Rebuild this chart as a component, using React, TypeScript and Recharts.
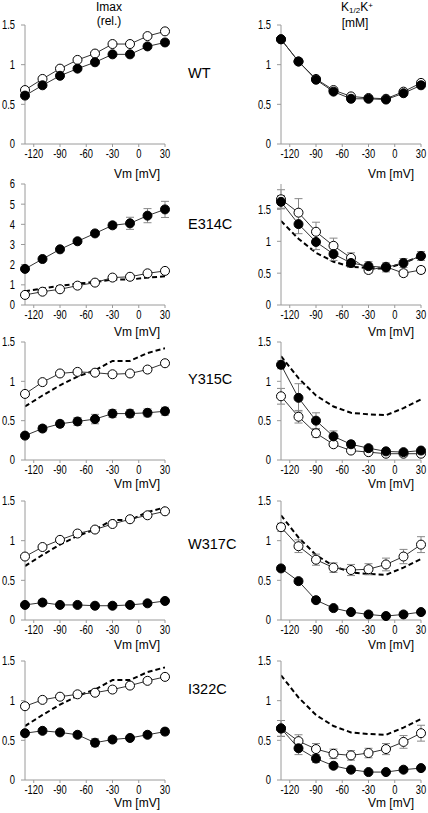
import React from "react";
import { ErrorBar, Line, LineChart, XAxis, YAxis } from "recharts";

// membrane potential (mV) of every point
const VM = [-130, -110, -90, -70, -50, -30, -10, 10, 30];
const X_TICKS = [-120, -90, -60, -30, 0, 30];
const Y_TICKS = [0, 0.5, 1, 1.5];
const Y_TICKS_E314C = [0, 1, 2, 3, 4, 5, 6];

// WT (open circles are also drawn dashed in the mutant panels)
const WT_IMAX_OPEN = [0.68, 0.82, 0.95, 1.06, 1.14, 1.26, 1.26, 1.36, 1.42];
const WT_IMAX_FILLED = [0.61, 0.74, 0.86, 0.95, 1.03, 1.13, 1.13, 1.23, 1.28];
const WT_K_OPEN = [1.32, 1.04, 0.82, 0.68, 0.6, 0.58, 0.57, 0.66, 0.77];
const WT_K_FILLED = [1.32, 1.04, 0.81, 0.66, 0.57, 0.57, 0.56, 0.64, 0.74];

const E314C_IMAX_OPEN = [0.5, 0.66, 0.78, 0.96, 1.11, 1.36, 1.4, 1.57, 1.69];
const E314C_IMAX_OPEN_ERR = [0.05, 0.05, 0.05, 0.05, 0.05, 0.05, 0.08, 0.08, 0.08];
const E314C_IMAX_FILLED = [1.79, 2.28, 2.76, 3.16, 3.55, 3.95, 4.05, 4.43, 4.74];
const E314C_IMAX_FILLED_ERR = [0.05, 0.05, 0.05, 0.05, 0.08, 0.15, 0.3, 0.35, 0.4];
const E314C_K_OPEN = [1.66, 1.45, 1.15, 0.93, 0.74, 0.55, 0.6, 0.5, 0.55];
const E314C_K_OPEN_ERR = [0.15, 0.22, 0.15, 0.12, 0.08, 0.05, 0.05, 0.05, 0.05];
const E314C_K_FILLED = [1.62, 1.27, 0.99, 0.8, 0.66, 0.61, 0.59, 0.66, 0.77];
const E314C_K_FILLED_ERR = [0.1, 0.15, 0.12, 0.1, 0.07, 0.07, 0.07, 0.07, 0.07];

const Y315C_IMAX_OPEN = [0.84, 0.99, 1.1, 1.12, 1.11, 1.09, 1.1, 1.15, 1.23];
const Y315C_IMAX_OPEN_ERR = [0.03, 0.03, 0.03, 0.03, 0.03, 0.03, 0.03, 0.03, 0.03];
const Y315C_IMAX_FILLED = [0.31, 0.4, 0.46, 0.49, 0.52, 0.59, 0.59, 0.6, 0.62];
const Y315C_IMAX_FILLED_ERR = [0.03, 0.04, 0.04, 0.05, 0.06, 0.05, 0.05, 0.05, 0.05];
const Y315C_K_OPEN = [0.81, 0.55, 0.34, 0.2, 0.12, 0.1, 0.08, 0.08, 0.08];
const Y315C_K_OPEN_ERR = [0.1, 0.08, 0.05, 0.03, 0.02, 0.02, 0.02, 0.02, 0.02];
const Y315C_K_FILLED = [1.21, 0.79, 0.5, 0.3, 0.2, 0.15, 0.11, 0.1, 0.12];
const Y315C_K_FILLED_ERR = [0.05, 0.18, 0.1, 0.07, 0.04, 0.03, 0.02, 0.02, 0.02];

const W317C_IMAX_OPEN = [0.8, 0.92, 1.01, 1.09, 1.14, 1.21, 1.27, 1.32, 1.37];
const W317C_IMAX_OPEN_ERR = [0.02, 0.02, 0.02, 0.02, 0.02, 0.02, 0.02, 0.02, 0.02];
const W317C_IMAX_FILLED = [0.19, 0.22, 0.19, 0.19, 0.18, 0.18, 0.19, 0.21, 0.24];
const W317C_IMAX_FILLED_ERR = [0.02, 0.02, 0.02, 0.02, 0.02, 0.02, 0.02, 0.02, 0.02];
const W317C_K_OPEN = [1.17, 0.93, 0.76, 0.66, 0.63, 0.64, 0.7, 0.8, 0.95];
const W317C_K_OPEN_ERR = [0.05, 0.08, 0.07, 0.06, 0.07, 0.07, 0.08, 0.09, 0.1];
const W317C_K_FILLED = [0.65, 0.49, 0.25, 0.15, 0.1, 0.07, 0.05, 0.07, 0.1];
const W317C_K_FILLED_ERR = [0.03, 0.03, 0.03, 0.02, 0.02, 0.02, 0.02, 0.02, 0.02];

const I322C_IMAX_OPEN = [0.93, 1.01, 1.05, 1.08, 1.1, 1.14, 1.19, 1.25, 1.3];
const I322C_IMAX_OPEN_ERR = [0.03, 0.03, 0.03, 0.03, 0.03, 0.03, 0.03, 0.03, 0.03];
const I322C_IMAX_FILLED = [0.59, 0.62, 0.6, 0.57, 0.47, 0.51, 0.53, 0.57, 0.61];
const I322C_IMAX_FILLED_ERR = [0.03, 0.03, 0.03, 0.03, 0.05, 0.03, 0.03, 0.03, 0.04];
const I322C_K_OPEN = [0.65, 0.49, 0.39, 0.33, 0.31, 0.34, 0.39, 0.48, 0.59];
const I322C_K_OPEN_ERR = [0.1, 0.08, 0.07, 0.06, 0.06, 0.06, 0.07, 0.08, 0.1];
const I322C_K_FILLED = [0.65, 0.4, 0.27, 0.18, 0.13, 0.1, 0.1, 0.13, 0.15];
const I322C_K_FILLED_ERR = [0.1, 0.08, 0.05, 0.03, 0.02, 0.02, 0.02, 0.02, 0.02];

const ROW_NAMES = ["WT", "E314C", "Y315C", "W317C", "I322C"];

const FONT = "'Liberation Sans', Arial, sans-serif";
const AXIS = "#9a9a9a";
const PLOT_W = 140;
const YW = 30;
const MT = 6;
const MR = 10;
const XH = 22;

// plot area positions, one per row: [top, height, vm label y, name y]
const ROWS = [
  [25, 119, 174, 74],
  [184, 121, 332, 225],
  [342, 118, 484, 380],
  [501, 119, 645, 545],
  [661, 119, 803, 690],
];

function condTick(anchor: "middle" | "end", dy: string) {
  return (p: any) => (
    <g transform={`translate(${p.x},${p.y})`}>
      <text
        transform="scale(0.75,1)"
        textAnchor={anchor}
        dy={dy}
        fontSize={12.5}
        fontFamily={FONT}
        fill="#000"
      >
        {String(p.payload.value)}
      </text>
    </g>
  );
}

interface PanelProps {
  left: number;
  top: number;
  height: number;
  domain: [number, number];
  yTicks: number[];
  open: number[];
  filled: number[];
  openErr?: number[];
  filledErr?: number[];
  reference?: number[];
}

function Panel({ left, top, height, domain, yTicks, open, filled, openErr, filledErr, reference }: PanelProps) {
  const rows = VM.map((v, i) => ({
    v,
    open: open[i],
    filled: filled[i],
    openErr: openErr ? openErr[i] : 0,
    filledErr: filledErr ? filledErr[i] : 0,
    ref: reference ? reference[i] : undefined,
  }));

  return (
    <div style={{ position: "absolute", left: left - YW, top: top - MT }}>
      <LineChart
        width={YW + PLOT_W + MR}
        height={MT + height + XH}
        data={rows}
        margin={{ top: MT, right: MR, left: 0, bottom: 0 }}
      >
        <XAxis
          type="number"
          dataKey="v"
          domain={[-130, 30]}
          ticks={X_TICKS}
          interval={0}
          height={XH}
          stroke={AXIS}
          tickSize={3}
          tickMargin={2}
          tick={condTick("middle", "0.71em")}
          allowDataOverflow
        />
        <YAxis
          type="number"
          domain={domain}
          ticks={yTicks}
          interval={0}
          width={YW}
          stroke={AXIS}
          tickSize={4}
          tickMargin={6}
          tick={condTick("end", "0.355em")}
          allowDataOverflow
        />
        {reference && (
          <Line
            dataKey="ref"
            stroke="#000"
            strokeWidth={2}
            strokeDasharray="5 3"
            dot={false}
            isAnimationActive={false}
          />
        )}
        <Line
          dataKey="open"
          stroke="#333"
          strokeWidth={1}
          dot={{ r: 4.5, fill: "#fff", stroke: "#000", strokeWidth: 1, clipDot: false }}
          isAnimationActive={false}
        >
          <ErrorBar dataKey="openErr" direction="y" width={4} stroke="#888" strokeWidth={1} />
        </Line>
        <Line
          dataKey="filled"
          stroke="#333"
          strokeWidth={1}
          dot={{ r: 4.5, fill: "#000", stroke: "#000", strokeWidth: 1, clipDot: false }}
          isAnimationActive={false}
        >
          <ErrorBar dataKey="filledErr" direction="y" width={4} stroke="#888" strokeWidth={1} />
        </Line>
      </LineChart>
    </div>
  );
}

const LEFT_X = 25;
const RIGHT_X = 281;

export default function App() {
  const text = (s: React.ReactNode, x: number, y: number, align: "center" | "left" | "right", size: number) => {
    const style: React.CSSProperties = {
      position: "absolute",
      top: y - size * 0.6,
      fontSize: size,
      lineHeight: `${size * 1.2}px`,
      fontFamily: FONT,
      color: "#000",
      whiteSpace: "nowrap",
    };
    if (align === "left") style.left = x;
    if (align === "right") style.right = 428 - x;
    if (align === "center") {
      style.left = x - 50;
      style.width = 100;
      style.textAlign = "center";
    }
    return <div style={style}>{s}</div>;
  };

  const small: React.CSSProperties = { fontSize: 8, lineHeight: 0, position: "relative" };

  return (
    <div
      style={{
        position: "absolute",
        left: 0,
        top: 0,
        width: 428,
        height: 813,
        background: "#fff",
        overflow: "hidden",
      }}
    >
      {text("Imax", 109, 7, "center", 12)}
      {text("(rel.)", 109, 21, "center", 12)}
      {text(
        <span>
          K<span style={{ ...small, top: 2 }}>1/2</span>K<span style={{ ...small, top: -3 }}>+</span>
        </span>,
        357,
        7,
        "center",
        12
      )}
      {text("[mM]", 355, 23, "center", 12)}

      <Panel left={LEFT_X} top={ROWS[0][0]} height={ROWS[0][1]} domain={[0, 1.5]} yTicks={Y_TICKS}
        open={WT_IMAX_OPEN} filled={WT_IMAX_FILLED} />
      <Panel left={RIGHT_X} top={ROWS[0][0]} height={ROWS[0][1]} domain={[0, 1.5]} yTicks={Y_TICKS}
        open={WT_K_OPEN} filled={WT_K_FILLED} />

      <Panel left={LEFT_X} top={ROWS[1][0]} height={ROWS[1][1]} domain={[0, 6]} yTicks={Y_TICKS_E314C}
        open={E314C_IMAX_OPEN} filled={E314C_IMAX_FILLED} openErr={E314C_IMAX_OPEN_ERR}
        filledErr={E314C_IMAX_FILLED_ERR} reference={WT_IMAX_OPEN} />
      <Panel left={RIGHT_X} top={ROWS[1][0]} height={ROWS[1][1]} domain={[0, 1.9]} yTicks={Y_TICKS}
        open={E314C_K_OPEN} filled={E314C_K_FILLED} openErr={E314C_K_OPEN_ERR}
        filledErr={E314C_K_FILLED_ERR} reference={WT_K_OPEN} />

      <Panel left={LEFT_X} top={ROWS[2][0]} height={ROWS[2][1]} domain={[0, 1.5]} yTicks={Y_TICKS}
        open={Y315C_IMAX_OPEN} filled={Y315C_IMAX_FILLED} openErr={Y315C_IMAX_OPEN_ERR}
        filledErr={Y315C_IMAX_FILLED_ERR} reference={WT_IMAX_OPEN} />
      <Panel left={RIGHT_X} top={ROWS[2][0]} height={ROWS[2][1]} domain={[0, 1.5]} yTicks={Y_TICKS}
        open={Y315C_K_OPEN} filled={Y315C_K_FILLED} openErr={Y315C_K_OPEN_ERR}
        filledErr={Y315C_K_FILLED_ERR} reference={WT_K_OPEN} />

      <Panel left={LEFT_X} top={ROWS[3][0]} height={ROWS[3][1]} domain={[0, 1.5]} yTicks={Y_TICKS}
        open={W317C_IMAX_OPEN} filled={W317C_IMAX_FILLED} openErr={W317C_IMAX_OPEN_ERR}
        filledErr={W317C_IMAX_FILLED_ERR} reference={WT_IMAX_OPEN} />
      <Panel left={RIGHT_X} top={ROWS[3][0]} height={ROWS[3][1]} domain={[0, 1.5]} yTicks={Y_TICKS}
        open={W317C_K_OPEN} filled={W317C_K_FILLED} openErr={W317C_K_OPEN_ERR}
        filledErr={W317C_K_FILLED_ERR} reference={WT_K_OPEN} />

      <Panel left={LEFT_X} top={ROWS[4][0]} height={ROWS[4][1]} domain={[0, 1.5]} yTicks={Y_TICKS}
        open={I322C_IMAX_OPEN} filled={I322C_IMAX_FILLED} openErr={I322C_IMAX_OPEN_ERR}
        filledErr={I322C_IMAX_FILLED_ERR} reference={WT_IMAX_OPEN} />
      <Panel left={RIGHT_X} top={ROWS[4][0]} height={ROWS[4][1]} domain={[0, 1.5]} yTicks={Y_TICKS}
        open={I322C_K_OPEN} filled={I322C_K_FILLED} openErr={I322C_K_OPEN_ERR}
        filledErr={I322C_K_FILLED_ERR} reference={WT_K_OPEN} />

      {ROWS.map((r, i) => (
        <React.Fragment key={ROW_NAMES[i]}>
          {text(ROW_NAMES[i], 188, r[3], "left", 14.5)}
          {text("Vm [mV]", 160, r[2], "right", 12)}
          {text("Vm [mV]", 414, r[2], "right", 12)}
        </React.Fragment>
      ))}
    </div>
  );
}
